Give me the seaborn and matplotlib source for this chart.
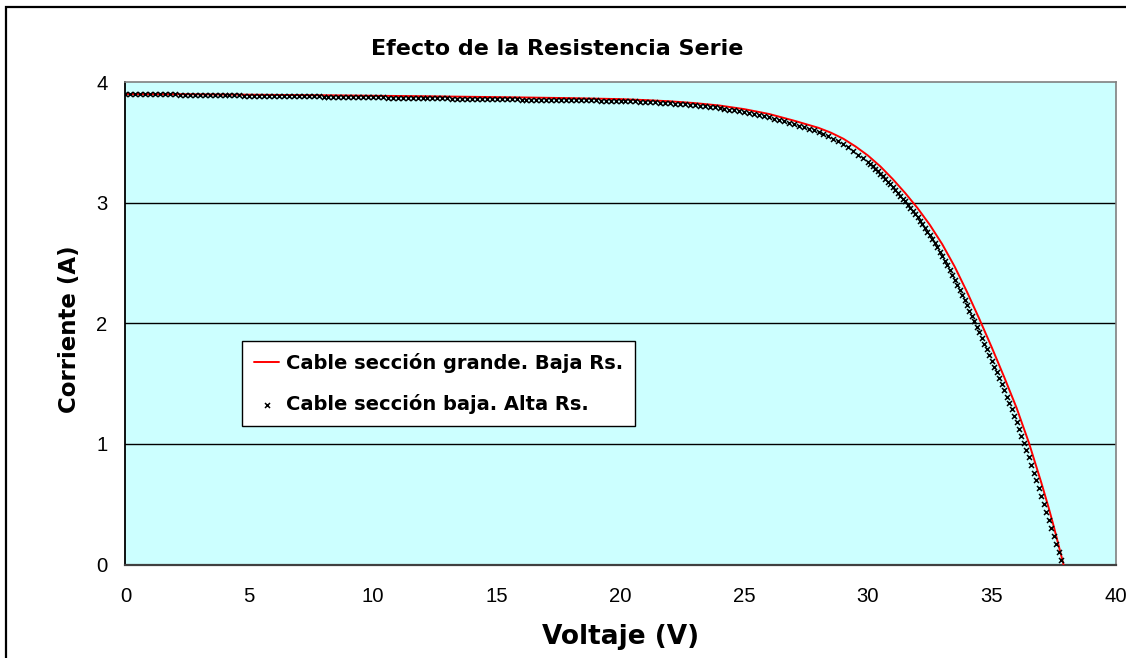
import matplotlib
matplotlib.use("Agg")
import matplotlib.pyplot as plt
import seaborn as sns
import pandas as pd
from matplotlib.patches import Rectangle

# ===== DATA =====
# red curve: thick cable, low series resistance
low_rs_v = [0, 2, 4, 6, 8, 10, 12, 14, 16, 18, 20, 21, 22, 23, 24, 25, 26, 27, 28, 28.5,
            29, 29.5, 30, 30.5, 31, 31.5, 32, 32.5, 33, 33.5, 34, 34.5, 35, 35.5, 36, 36.5,
            37, 37.3, 37.5, 37.7, 37.9]
low_rs_i = [3.900, 3.899, 3.896, 3.893, 3.890, 3.886, 3.882, 3.877, 3.872, 3.866, 3.858, 3.850,
            3.840, 3.825, 3.805, 3.775, 3.735, 3.680, 3.620, 3.580, 3.530, 3.465, 3.390, 3.300,
            3.195, 3.080, 2.955, 2.815, 2.655, 2.470, 2.260, 2.035, 1.800, 1.555, 1.300, 1.010,
            0.680, 0.470, 0.320, 0.160, 0.000]

# black markers: thin cable, high series resistance (flat part)
high_rs_v_flat = [
    0.0, 0.2, 0.4, 0.6, 0.8, 1.0, 1.2, 1.4, 1.6, 1.8,
    2.0, 2.2, 2.4, 2.6, 2.8, 3.0, 3.2, 3.4, 3.6, 3.8,
    4.0, 4.2, 4.4, 4.6, 4.8, 5.0, 5.2, 5.4, 5.6, 5.8,
    6.0, 6.2, 6.4, 6.6, 6.8, 7.0, 7.2, 7.4, 7.6, 7.8,
    8.0, 8.2, 8.4, 8.6, 8.8, 9.0, 9.2, 9.4, 9.6, 9.8,
    10.0, 10.2, 10.4, 10.6, 10.8, 11.0, 11.2, 11.4, 11.6, 11.8,
    12.0, 12.2, 12.4, 12.6, 12.8, 13.0, 13.2, 13.4, 13.6, 13.8,
    14.0, 14.2, 14.4, 14.6, 14.8, 15.0, 15.2, 15.4, 15.6, 15.8,
    16.0, 16.2, 16.4, 16.6, 16.8, 17.0, 17.2, 17.4, 17.6, 17.8,
    18.0, 18.2, 18.4, 18.6, 18.8, 19.0, 19.2, 19.4, 19.6, 19.8,
    20.0, 20.2, 20.4, 20.6, 20.8, 21.0, 21.2, 21.4, 21.6, 21.8,
    22.0, 22.2, 22.4, 22.6, 22.8, 23.0, 23.2, 23.4, 23.6, 23.8,
    24.0, 24.2, 24.4, 24.6, 24.8, 25.0, 25.2, 25.4, 25.6, 25.8,
    26.0, 26.2, 26.4, 26.6, 26.8, 27.0, 27.2, 27.4, 27.6, 27.8,
    28.0, 28.2, 28.4, 28.6, 28.8, 29.0, 29.2, 29.4, 29.6, 29.8,
]
high_rs_i_flat = [
    3.900, 3.900, 3.899, 3.899, 3.899, 3.898, 3.898, 3.898, 3.897, 3.897,
    3.897, 3.896, 3.896, 3.895, 3.895, 3.894, 3.893, 3.893, 3.892, 3.892,
    3.891, 3.890, 3.890, 3.889, 3.888, 3.888, 3.887, 3.886, 3.886, 3.885,
    3.884, 3.884, 3.883, 3.883, 3.882, 3.882, 3.881, 3.881, 3.880, 3.880,
    3.879, 3.878, 3.878, 3.877, 3.877, 3.876, 3.875, 3.875, 3.874, 3.874,
    3.873, 3.872, 3.872, 3.871, 3.871, 3.870, 3.869, 3.869, 3.868, 3.868,
    3.867, 3.866, 3.866, 3.865, 3.864, 3.864, 3.863, 3.862, 3.862, 3.861,
    3.860, 3.859, 3.859, 3.858, 3.858, 3.857, 3.856, 3.856, 3.855, 3.855,
    3.854, 3.854, 3.853, 3.853, 3.852, 3.852, 3.851, 3.851, 3.850, 3.850,
    3.849, 3.849, 3.848, 3.848, 3.847, 3.847, 3.846, 3.846, 3.845, 3.845,
    3.844, 3.842, 3.840, 3.839, 3.837, 3.835, 3.833, 3.831, 3.828, 3.826,
    3.824, 3.821, 3.818, 3.814, 3.811, 3.808, 3.803, 3.799, 3.794, 3.790,
    3.785, 3.778, 3.772, 3.765, 3.759, 3.752, 3.743, 3.734, 3.726, 3.717,
    3.708, 3.697, 3.686, 3.674, 3.663, 3.652, 3.639, 3.626, 3.612, 3.599,
    3.586, 3.568, 3.550, 3.530, 3.509, 3.488, 3.458, 3.428, 3.398, 3.369,
]
# black markers, knee and steep part
high_rs_v_knee = [
    30.0, 30.1, 30.2, 30.3, 30.4, 30.5, 30.6, 30.7, 30.8, 30.9,
    31.0, 31.1, 31.2, 31.3, 31.4, 31.5, 31.6, 31.7, 31.8, 31.9,
    32.0, 32.1, 32.2, 32.3, 32.4, 32.5, 32.6, 32.7, 32.8, 32.9,
    33.0, 33.1, 33.2, 33.3, 33.4, 33.5, 33.6, 33.7, 33.8, 33.9,
    34.0, 34.1, 34.2, 34.3, 34.4, 34.5, 34.6, 34.7, 34.8, 34.9,
    35.0, 35.1, 35.2, 35.3, 35.4, 35.5, 35.6, 35.7, 35.8, 35.9,
    36.0, 36.1, 36.2, 36.3, 36.4, 36.5, 36.6, 36.7, 36.8, 36.9,
    37.0, 37.1, 37.2, 37.3, 37.4, 37.5, 37.6, 37.7, 37.8,
]
high_rs_i_knee = [
    3.340, 3.320, 3.300, 3.280, 3.260, 3.240, 3.218, 3.196, 3.174, 3.152,
    3.130, 3.106, 3.082, 3.058, 3.034, 3.010, 2.984, 2.958, 2.932, 2.906,
    2.880, 2.850, 2.820, 2.790, 2.760, 2.730, 2.696, 2.662, 2.628, 2.594,
    2.560, 2.520, 2.480, 2.440, 2.400, 2.360, 2.318, 2.276, 2.234, 2.192,
    2.150, 2.105, 2.060, 2.015, 1.970, 1.925, 1.878, 1.831, 1.784, 1.737,
    1.690, 1.641, 1.592, 1.543, 1.494, 1.445, 1.392, 1.339, 1.286, 1.233,
    1.180, 1.122, 1.064, 1.006, 0.948, 0.890, 0.826, 0.762, 0.698, 0.634,
    0.570, 0.504, 0.438, 0.372, 0.306, 0.240, 0.173, 0.106, 0.040,
]

x_ticks = [0, 5, 10, 15, 20, 25, 30, 35, 40]
y_ticks = [0, 1, 2, 3, 4]

title = "Efecto de la Resistencia Serie"
x_label = "Voltaje (V)"
y_label = "Corriente (A)"
label_low = "Cable sección grande. Baja Rs."
label_high = "Cable sección baja. Alta Rs."

# ===== STYLE =====
sns.set_theme(style="white")
plt.rcParams["font.family"] = ["DejaVu Sans"]
plt.rcParams["text.color"] = "black"
plt.rcParams["axes.labelcolor"] = "black"
plt.rcParams["xtick.color"] = "black"
plt.rcParams["ytick.color"] = "black"
TICK_FONT = ["Liberation Sans", "DejaVu Sans"]
PLOT_BG = "#CCFFFF"

low_df = pd.DataFrame({"v": low_rs_v, "i": low_rs_i})
high_df = pd.DataFrame({"v": high_rs_v_flat + high_rs_v_knee,
                        "i": high_rs_i_flat + high_rs_i_knee})

W, H = 1126, 658
fig = plt.figure(figsize=(W / 100, H / 100), dpi=100, facecolor="white")
ax = fig.add_axes([125.5 / W, 1 - 564.5 / H, 990 / W, 482.5 / H])
ax.set_facecolor(PLOT_BG)

sns.lineplot(data=low_df, x="v", y="i", color="#FF0000", linewidth=1.4,
             sort=False, estimator=None, label=label_low, ax=ax, zorder=3)
sns.scatterplot(data=high_df, x="v", y="i", color="black", marker="x", s=13,
                linewidth=1.1, label=label_high, ax=ax, zorder=4)

ax.set_xlim(0, 40)
ax.set_ylim(0, 4)
ax.set_xticks(x_ticks)
ax.set_yticks(y_ticks)
ax.tick_params(axis="both", which="major", direction="out", length=7, width=1,
               color="black", labelsize=14.6, labelcolor="black")
ax.tick_params(axis="x", pad=9)
ax.tick_params(axis="y", pad=6)
for lab in ax.get_xticklabels() + ax.get_yticklabels():
    lab.set_family(TICK_FONT)

ax.yaxis.grid(True, color="black", linewidth=1)
ax.xaxis.grid(False)
ax.set_axisbelow(True)
gl = ax.get_ygridlines()
gl[0].set_visible(False)
gl[-1].set_visible(False)

for side in ["top", "right"]:
    ax.spines[side].set_color("#808080")
    ax.spines[side].set_linewidth(1.2)
ax.spines["left"].set_color("black")
ax.spines["left"].set_linewidth(1.3)
ax.spines["bottom"].set_color("#404040")
ax.spines["bottom"].set_linewidth(1.6)

ax.set_xlabel(x_label, fontsize=19, fontweight="bold", va="center", color="black")
ax.xaxis.set_label_coords((621 - 125.5) / 990, (564.5 - 637) / 482.5)
ax.set_ylabel(y_label, fontsize=16.5, fontweight="bold", va="center", color="black")
ax.yaxis.set_label_coords((70 - 125.5) / 990, (564.5 - 329) / 482.5)

fig.text(557 / W, 1 - 49 / H, title, ha="center", va="center",
         fontsize=16, fontweight="bold", color="black")

leg = ax.legend(loc="upper left", bbox_to_anchor=((242 - 125.5) / 990, (564.5 - 341) / 482.5),
                borderaxespad=0, frameon=True, fancybox=False, framealpha=1,
                edgecolor="black", facecolor="white", prop={"weight": "bold", "size": 14.0},
                handlelength=1.3, handletextpad=0.35, borderpad=0.62, labelspacing=1.08,
                markerscale=1.0)
leg.get_frame().set_linewidth(1.0)
for t in leg.get_texts():
    t.set_color("black")

# outer chart border (cut by the image on the right and bottom)
fig.patches.append(Rectangle((6 / W, -0.05), 1.2, (1 - 7 / H) + 0.05, transform=fig.transFigure,
                             fill=False, edgecolor="black", linewidth=1.6, zorder=10))

fig.savefig("out.png", dpi=100, facecolor="white")
